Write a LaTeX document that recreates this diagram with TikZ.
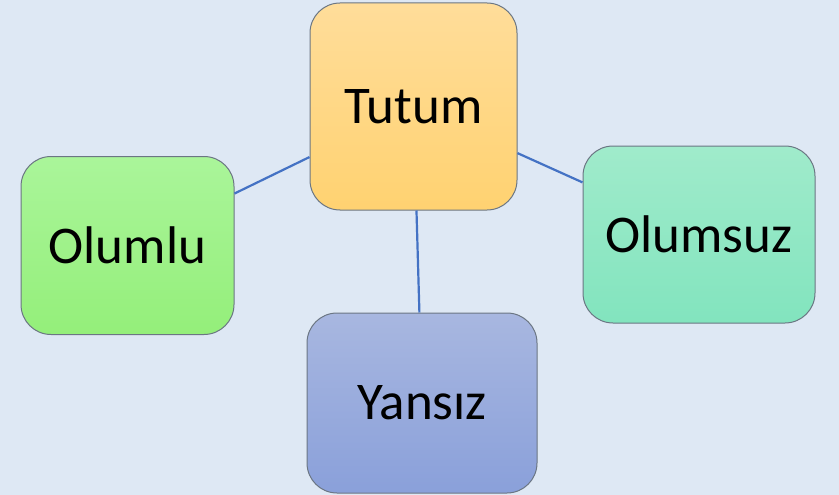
\documentclass[tikz,border=0pt]{standalone}
\usepackage{fontspec}
\setmainfont{Carlito}
\definecolor{bg}{HTML}{DEE8F4}
\definecolor{edge}{HTML}{4472C4}
\definecolor{frame}{HTML}{6B7683}
\begin{document}
\begin{tikzpicture}[x=1pt,y=-1pt,
  box/.style={draw=frame,line width=1pt,rounded corners=30pt,inner sep=0pt,
    font=\fontsize{53}{60}\selectfont,text=black},
  link/.style={draw=edge,line width=2.2pt}]
\fill[bg] (0,0) rectangle (839,495);
\useasboundingbox (0,0) rectangle (839,495);
\node[box,minimum width=207pt,minimum height=207pt,
  top color={rgb,255:red,255;green,221;blue,154},bottom color={rgb,255:red,255;green,210;blue,113}] (tutum) at (413.5,106.5) {Tutum};
\node[box,minimum width=213pt,minimum height=178pt,
  top color={rgb,255:red,170;green,245;blue,154},bottom color={rgb,255:red,148;green,239;blue,122}] (olumlu) at (127.5,245.5) {Olumlu};
\node[box,minimum width=232pt,minimum height=177pt,
  top color={rgb,255:red,160;green,235;blue,203},bottom color={rgb,255:red,130;green,228;blue,190}] (olumsuz) at (699,234.5) {Olumsuz};
\node[box,minimum width=230pt,minimum height=180pt,
  top color={rgb,255:red,168;green,183;blue,224},bottom color={rgb,255:red,138;green,160;blue,218}] (yansiz) at (422,403) {Yansız};
\draw[link] (tutum) -- (olumlu);
\draw[link] (tutum) -- (olumsuz);
\draw[link] (tutum) -- (yansiz);
\end{tikzpicture}
\end{document}
